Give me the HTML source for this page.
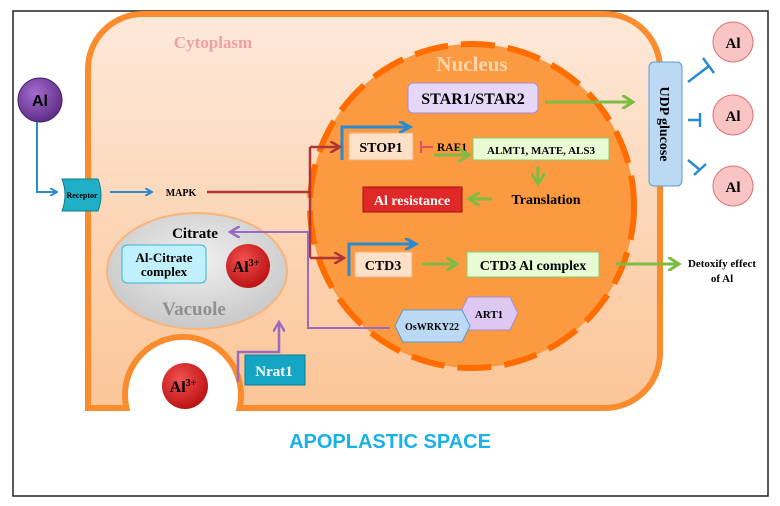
<!DOCTYPE html>
<html><head><meta charset="utf-8"><style>
body{margin:0;background:#fff}
svg{display:block}
text{font-family:"Liberation Serif",serif;font-weight:bold}
</style></head><body>
<svg width="780" height="506" viewBox="0 0 780 506">
<defs>
<linearGradient id="cyto" x1="0" y1="0" x2="0" y2="1"><stop offset="0" stop-color="#fde9da"/><stop offset="1" stop-color="#fbc597"/></linearGradient>
<radialGradient id="red" cx="0.4" cy="0.35" r="0.7"><stop offset="0" stop-color="#f25050"/><stop offset="1" stop-color="#b80f0f"/></radialGradient>
<radialGradient id="purp" cx="0.4" cy="0.35" r="0.7"><stop offset="0" stop-color="#a46cd0"/><stop offset="1" stop-color="#5b2a82"/></radialGradient>
<radialGradient id="vac" cx="0.5" cy="0.4" r="0.6"><stop offset="0" stop-color="#f0f0f0"/><stop offset="1" stop-color="#c8c8c8"/></radialGradient>
<marker id="ab" markerWidth="8" markerHeight="8" refX="6" refY="4" orient="auto" markerUnits="userSpaceOnUse"><path d="M0,0 L7,4 L0,8" fill="none" stroke="#2a8ad0" stroke-width="2"/></marker>
<marker id="ar" markerWidth="12" markerHeight="12" refX="10" refY="6" orient="auto" markerUnits="userSpaceOnUse"><path d="M0,0 L10,6 L0,12" fill="none" stroke="#b03535" stroke-width="2.5"/></marker>
<marker id="ag" markerWidth="14" markerHeight="14" refX="11" refY="7" orient="auto" markerUnits="userSpaceOnUse"><path d="M0,0 L11,7 L0,14" fill="none" stroke="#7dbb42" stroke-width="3"/></marker>
<marker id="ap" markerWidth="12" markerHeight="12" refX="10" refY="6" orient="auto" markerUnits="userSpaceOnUse"><path d="M0,0 L10,6 L0,12" fill="none" stroke="#9a6bc0" stroke-width="2.5"/></marker>
<marker id="abl" markerWidth="14" markerHeight="12" refX="11" refY="6" orient="auto" markerUnits="userSpaceOnUse"><path d="M0,0 L11,6 L0,12" fill="none" stroke="#2a8ad0" stroke-width="3"/></marker>
</defs>
<rect x="13" y="11" width="755" height="485" fill="#fff" stroke="#222" stroke-width="1.5"/>
<path d="M143,14 H605 A55,55 0 0 1 660,69 V353 A55,55 0 0 1 605,408 H239.5 A58,58 0 1 0 126.5,408 H88 V69 A55,55 0 0 1 143,14 Z" fill="url(#cyto)" stroke="#fb8c2e" stroke-width="6"/>
<text x="213" y="48" font-size="17" fill="#f0a0a0" text-anchor="middle">Cytoplasm</text>
<circle cx="472" cy="206" r="162" fill="#fb9a40" stroke="#ff6d00" stroke-width="6" stroke-dasharray="34 13"/>
<text x="472" y="71" font-size="21" fill="#fdd5b0" text-anchor="middle">Nucleus</text>
<rect x="408" y="83" width="130" height="30" rx="5" fill="#e6d6f7" stroke="#a98acc"/>
<text x="473" y="104" font-size="16" text-anchor="middle">STAR1/STAR2</text>
<line x1="545" y1="102" x2="633" y2="102" stroke="#7dbb42" stroke-width="3" marker-end="url(#ag)"/>
<rect x="649" y="62" width="33" height="124" rx="5" fill="#bcd9f4" stroke="#5b9bd5"/>
<text transform="translate(660,124) rotate(90)" font-size="14" text-anchor="middle">UDP glucose</text>
<g stroke="#2a8ad0" stroke-width="2.5" fill="none">
<path d="M688,82 L709,66 M703,58 L714,73"/><path d="M688,120 L700,120 M700,113 L700,127"/><path d="M688,160 L700,170 M694,175 L706,164"/>
</g>
<g>
<circle cx="733" cy="42" r="20" fill="#f8c4c4" stroke="#e07070"/><text x="733" y="48" font-size="15" text-anchor="middle">Al</text>
<circle cx="733" cy="115" r="20" fill="#f8c4c4" stroke="#e07070"/><text x="733" y="121" font-size="15" text-anchor="middle">Al</text>
<circle cx="733" cy="186" r="20" fill="#f8c4c4" stroke="#e07070"/><text x="733" y="192" font-size="15" text-anchor="middle">Al</text>
</g>
<rect x="349" y="133" width="64" height="27" fill="#fde0c8" stroke="#f0b080"/>
<text x="381" y="152" font-size="14" text-anchor="middle">STOP1</text>
<path d="M342,160 V127 H410" fill="none" stroke="#2a8ad0" stroke-width="3" marker-end="url(#abl)"/>
<path d="M433,147 H421 M421,141 V153" stroke="#e05060" stroke-width="2" fill="none"/>
<text x="452" y="151" font-size="11.5" text-anchor="middle">RAE1</text>
<line x1="434" y1="155" x2="469" y2="155" stroke="#7dbb42" stroke-width="3" marker-end="url(#ag)"/>
<rect x="473" y="138" width="136" height="22" fill="#e8fbd4" stroke="#8ec86a"/>
<text x="541" y="154" font-size="11" text-anchor="middle">ALMT1, MATE, ALS3</text>
<line x1="538" y1="166" x2="538" y2="184" stroke="#7dbb42" stroke-width="3" marker-end="url(#ag)"/>
<text x="546" y="204" font-size="14" text-anchor="middle">Translation</text>
<line x1="492" y1="199" x2="469" y2="199" stroke="#7dbb42" stroke-width="3" marker-end="url(#ag)"/>
<rect x="363" y="187" width="99" height="25" fill="#e02828" stroke="#a01010"/>
<text x="412" y="205" font-size="14" fill="#fff" text-anchor="middle">Al resistance</text>
<rect x="355" y="252" width="57" height="25" fill="#fde0c8" stroke="#f0b080"/>
<text x="383" y="270" font-size="14" text-anchor="middle">CTD3</text>
<path d="M349,276 V244 H416" fill="none" stroke="#2a8ad0" stroke-width="3" marker-end="url(#abl)"/>
<line x1="422" y1="264" x2="457" y2="264" stroke="#7dbb42" stroke-width="3" marker-end="url(#ag)"/>
<rect x="467" y="252" width="132" height="25" fill="#e8fbd4" stroke="#8ec86a"/>
<text x="533" y="270" font-size="14" text-anchor="middle">CTD3 Al complex</text>
<line x1="616" y1="264" x2="679" y2="264" stroke="#7dbb42" stroke-width="3" marker-end="url(#ag)"/>
<text x="722" y="267" font-size="11" text-anchor="middle">Detoxify effect</text>
<text x="722" y="282" font-size="11" text-anchor="middle">of Al</text>
<circle cx="40" cy="100" r="22" fill="url(#purp)" stroke="#4a2070"/>
<text x="40" y="106" font-size="16" style="font-family:'Liberation Sans',sans-serif" text-anchor="middle">Al</text>
<path d="M37,122 V192 H56" fill="none" stroke="#2a8ad0" stroke-width="2" marker-end="url(#ab)"/>
<path d="M62,179 H98 Q104,195 98,211 H62 Q68,195 62,179 Z" fill="#1fb0c8" stroke="#127a8a"/>
<text x="82" y="198" font-size="8" text-anchor="middle">Receptor</text>
<line x1="110" y1="192" x2="151" y2="192" stroke="#2a8ad0" stroke-width="2" marker-end="url(#ab)"/>
<text x="181" y="196" font-size="10" text-anchor="middle">MAPK</text>
<path d="M207,192 H310 M310,147 V258" fill="none" stroke="#b03535" stroke-width="2.5"/>
<line x1="310" y1="147" x2="340" y2="147" stroke="#b03535" stroke-width="2.5" marker-end="url(#ar)"/>
<line x1="310" y1="258" x2="344" y2="258" stroke="#b03535" stroke-width="2.5" marker-end="url(#ar)"/>
<ellipse cx="197" cy="271" rx="90" ry="58" fill="url(#vac)" stroke="#f8b47c" stroke-width="2"/>
<text x="195" y="238" font-size="15" text-anchor="middle">Citrate</text>
<path d="M390,328 H308 V232 H230" fill="none" stroke="#9a6bc0" stroke-width="2" marker-end="url(#ap)"/>
<rect x="122" y="245" width="84" height="38" rx="5" fill="#bff0fb" stroke="#3ab4d0"/>
<text x="164" y="262" font-size="13" text-anchor="middle">Al-Citrate</text>
<text x="164" y="276" font-size="13" text-anchor="middle">complex</text>
<circle cx="248" cy="266" r="22" fill="url(#red)"/>
<text x="246" y="272" font-size="16" text-anchor="middle">Al<tspan font-size="10" dy="-6">3+</tspan></text>
<text x="194" y="315" font-size="19" fill="#8f8f8f" text-anchor="middle">Vacuole</text>
<polygon points="468,297 510,297 518,313 510,330 468,330 460,313" fill="#dcc8f0" stroke="#a98acc"/>
<text x="489" y="318" font-size="11" text-anchor="middle">ART1</text>
<polygon points="403,310 462,310 470,326 462,342 403,342 395,326" fill="#bcd9f4" stroke="#5b9bd5"/>
<text x="432" y="330" font-size="10" text-anchor="middle">OsWRKY22</text>
<path d="M238,382 V352 H279 V322" fill="none" stroke="#9a6bc0" stroke-width="2.5" marker-end="url(#ap)"/>
<rect x="245" y="355" width="60" height="30" fill="#14a4c4" stroke="#0b7d96"/>
<text x="274" y="376" font-size="15" fill="#fff" text-anchor="middle">Nrat1</text>
<circle cx="185" cy="386" r="23" fill="url(#red)"/>
<text x="183" y="392" font-size="16" text-anchor="middle">Al<tspan font-size="10" dy="-6">3+</tspan></text>
<text x="390" y="448" font-size="20" fill="#1ab0e8" style="font-family:'Liberation Sans',sans-serif" text-anchor="middle">APOPLASTIC SPACE</text>
</svg>
</body></html>
